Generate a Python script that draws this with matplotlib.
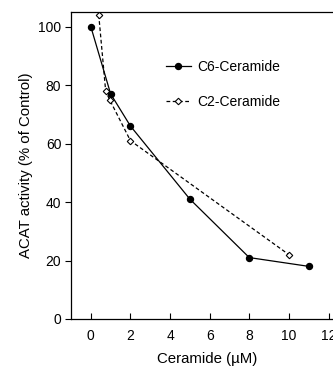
import matplotlib.pyplot as plt

plt.rcParams['font.family'] = ['Liberation Sans', 'DejaVu Sans']

# data
c6_x = [0, 1, 2, 5, 8, 11]
c6_y = [100, 77, 66, 41, 21, 18]
c2_x = [0.4, 0.75, 0.95, 2, 10]
c2_y = [104, 78, 75, 61, 22]

xticks = [0, 2, 4, 6, 8, 10, 12]
yticks = [0, 20, 40, 60, 80, 100]

fig = plt.figure(figsize=(3.33, 3.71), dpi=100)
ax = fig.add_axes([0.2132, 0.1402, 0.815, 0.8275])

ax.plot(c6_x, c6_y, '-', color='black', lw=0.9, marker='o', ms=4.3,
        mfc='black', mec='black', label='C6-Ceramide')
ax.plot(c2_x, c2_y, color='black', lw=0.9, ls=(0, (3, 2)), marker='D', ms=3.3,
        mfc='white', mec='black', mew=0.8, label='C2-Ceramide')

ax.set_xlim(-1, 12.7)
ax.set_ylim(0, 105)
ax.set_xticks(xticks)
ax.set_yticks(yticks)
ax.tick_params(axis='x', direction='in', length=4, width=0.8, labelsize=10, pad=7)
ax.tick_params(axis='y', direction='out', length=4, width=0.8, labelsize=10, pad=3)
for s in ax.spines.values():
    s.set_linewidth(0.9)

ax.set_xlabel('Ceramide (µM)', fontsize=10.8, labelpad=7)
ax.set_ylabel('ACAT activity (% of Control)', fontsize=10.8, labelpad=4)

ax.legend(loc='upper left', bbox_to_anchor=(0.35, 0.843), frameon=False,
          fontsize=10, handlelength=1.8, handletextpad=0.45, labelspacing=1.5,
          borderaxespad=0, borderpad=0)

fig.savefig('out.png', dpi=100)
